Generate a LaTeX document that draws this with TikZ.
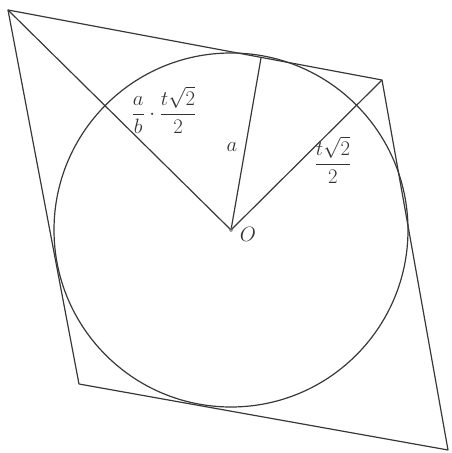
\documentclass[tikz,border=0pt]{standalone}
\usepackage{amsmath}
\begin{document}
\begin{tikzpicture}[x=1pt,y=-1pt,
  geo/.style={draw=black!78,line width=1.2pt,line join=round},
  lab/.style={inner sep=0pt,font=\fontsize{20}{24}\selectfont,text=black!80}]
\useasboundingbox (0,0) rectangle (452,453);
\coordinate (TL) at (8,10);
\coordinate (TR) at (382,80);
\coordinate (BR) at (448,450);
\coordinate (BL) at (79,384);
\coordinate (O) at (231,230);
\coordinate (T) at (261,58);
\draw[geo] (TL) -- (TR) -- (BR) -- (BL) -- cycle;
\draw[geo] (O) circle[radius=177];
\draw[geo] (O) -- (TL);
\draw[geo] (O) -- (TR);
\draw[geo] (O) -- (T);
\draw[draw=black!50,line width=0.6pt] (O) circle[radius=1.6];
\node[lab] (lO) at (248,234) {$O$};
\node[lab] (la) at (232,147) {$a$};
\node[lab] (lr) at (333,160) {$\dfrac{t\sqrt{2}}{2}$};
\node[lab] (lab) at (164,110) {$\dfrac{a}{b}\cdot\dfrac{t\sqrt{2}}{2}$};
\end{tikzpicture}
\end{document}
